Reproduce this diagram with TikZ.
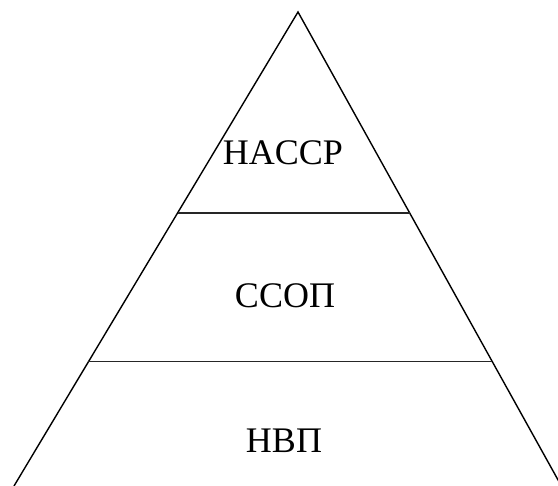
\documentclass[tikz,border=0pt]{standalone}
\usepackage{fontspec}
\setmainfont{Liberation Serif}
\usetikzlibrary{calc}
\begin{document}
\begin{tikzpicture}[x=1pt,y=1pt,
  edge/.style={line width=1.4pt,black},
  tier/.style={line width=1.1pt,black!85},
  lbl/.style={font=\fontsize{36}{40}\selectfont,inner sep=0pt,anchor=base}]
\useasboundingbox (0,0) rectangle (558,486);
\clip (0,0) rectangle (558,486);
\coordinate (apex) at (298,474);
\coordinate (bl) at (14,0);
\coordinate (br) at (561.4,0);
\draw[edge] (bl) -- (apex) -- (br);
\coordinate (l1) at ($(apex)!0.424!(bl)$);
\coordinate (r1) at ($(apex)!0.424!(br)$);
\coordinate (l2) at ($(apex)!0.738!(bl)$);
\coordinate (r2) at ($(apex)!0.738!(br)$);
\draw[tier] (l1) -- (r1);
\draw[tier] (l2) -- (r2);
\node[lbl] (t1) at (283,321) {HACCP};
\node[lbl] (t2) at (285,178) {ССОП};
\node[lbl] (t3) at (284,33) {НВП};
\end{tikzpicture}
\end{document}
